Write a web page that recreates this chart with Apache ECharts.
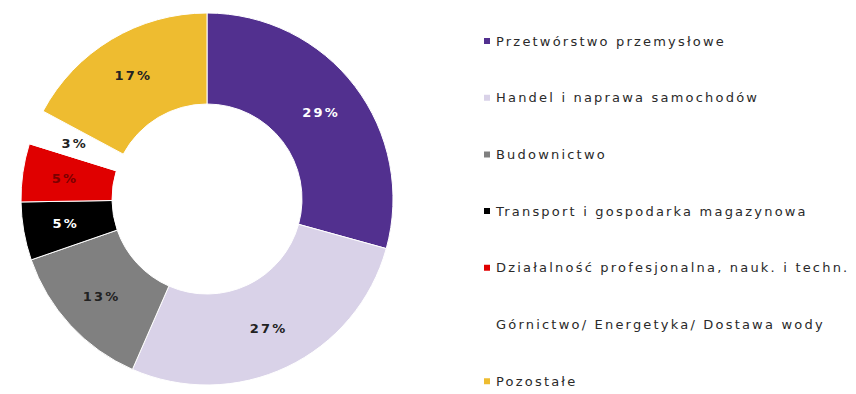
<!DOCTYPE html>
<html>
<head>
<meta charset="utf-8">
<script src="https://cdn.jsdelivr.net/npm/echarts@6/dist/echarts.min.js"></script>
<style>
  html, body { margin: 0; padding: 0; background: #fff; }
  #chart { width: 856px; height: 394px; }
  /* widely tracked lettering for legend and slice labels */
  #chart svg text { letter-spacing: 2.2px; }
</style>
</head>
<body>
<div id="chart"></div>
<script>
// Sector names and their shares (%)
const categories = [
  'Przetwórstwo przemysłowe',
  'Handel i naprawa samochodów',
  'Budownictwo',
  'Transport i gospodarka magazynowa',
  'Działalność profesjonalna, nauk. i techn.',
  'Górnictwo/ Energetyka/ Dostawa wody',
  'Pozostałe'
];
const shares = [29, 27, 13, 5, 5, 3, 17];

// Slice fills and label colours, in the same order
const sliceColors = ['#52308f', '#d9d2e8', '#808080', '#000000', '#e00000', '#ffffff', '#eebc30'];
const labelColors = ['#ffffff', '#222222', '#222222', '#ffffff', '#7a0000', '#222222', '#222222'];

const chart = echarts.init(document.getElementById('chart'), null, { renderer: 'svg' });

chart.setOption({
  animation: false,
  backgroundColor: '#ffffff',
  color: sliceColors,
  legend: {
    orient: 'vertical',
    left: 482,
    top: 33,
    height: 361,
    padding: 0,
    itemWidth: 8,
    itemHeight: 8,
    itemGap: 40.7,
    icon: 'rect',
    selectedMode: false,
    textStyle: {
      fontFamily: 'DejaVu Sans',
      fontSize: 13,
      lineHeight: 16,
      color: '#2a2a2a'
    },
    data: categories
  },
  series: [{
    type: 'pie',
    center: [207, 199],
    radius: [95, 186],
    startAngle: 90,
    clockwise: true,
    avoidLabelOverlap: false,
    itemStyle: { borderColor: '#ffffff', borderWidth: 1 },
    label: {
      show: true,
      position: 'inside',
      formatter: '{c}%',
      fontFamily: 'DejaVu Sans',
      fontWeight: 'bold',
      fontSize: 13
    },
    labelLine: { show: false },
    data: categories.map((name, i) => ({
      name: name,
      value: shares[i],
      label: { color: labelColors[i] }
    }))
  }]
});
</script>
</body>
</html>
